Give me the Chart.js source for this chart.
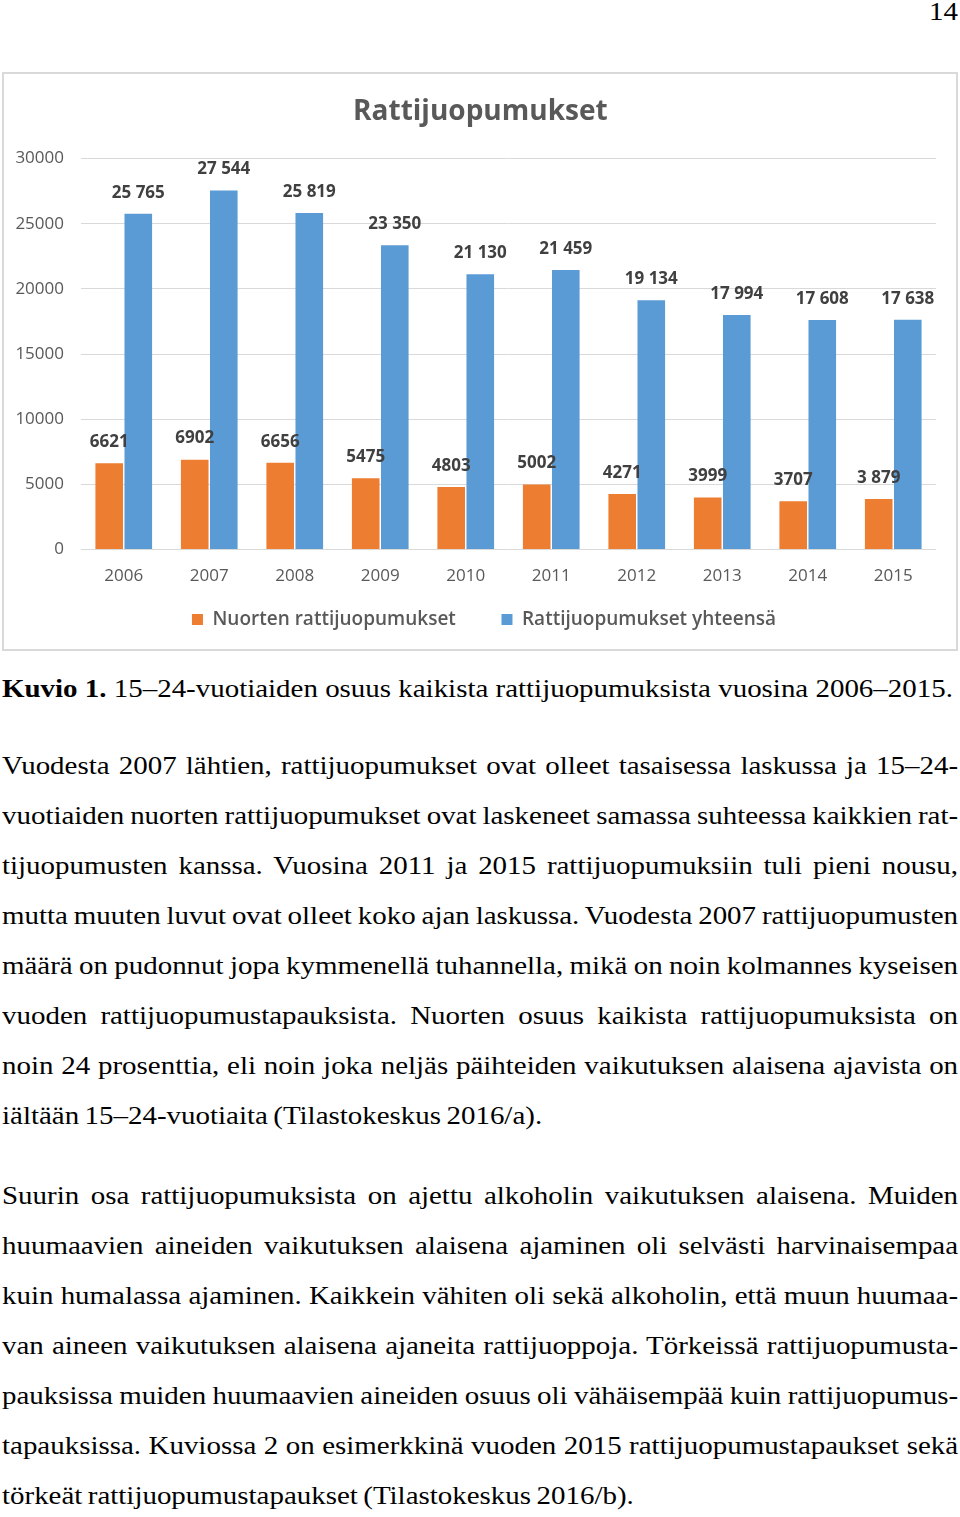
<!DOCTYPE html>
<html lang="fi">
<head>
<meta charset="utf-8">
<title>Rattijuopumukset</title>
<script src="https://cdn.jsdelivr.net/npm/chart.js@4.4.0/dist/chart.umd.min.js"></script>
<style>
    body { margin: 0; width: 960px; height: 1517px; position: relative; overflow: hidden; background: #fff;
           font-family: "Liberation Serif", "Times New Roman", serif; color: #000; }
    .pg { position: absolute; right: 2px; top: -13px; font-size: 26px; line-height: 50px;
          transform: scaleX(1.113); transform-origin: right top; }
    #box { position: absolute; left: 2px; top: 72px; width: 952px; height: 575px; border: 2px solid #d9d9d9; }
    /* the scanned page uses a slightly wide Times, so the lines are stretched */
    .ln { position: absolute; left: 2px; width: 859px; font-size: 26px; line-height: 50px; word-spacing: -1.6px;
          white-space: nowrap; text-align: justify; text-align-last: justify;
          transform: scaleX(1.113); transform-origin: left top; }
    .ln.end { text-align-last: left; }
</style>
</head>
<body>
<div class="pg">14</div>
<div id="box"><canvas id="chart" width="952" height="575"></canvas></div>

<div class="ln end" style="top:664px;word-spacing:0"><b>Kuvio 1.</b> 15–24-vuotiaiden osuus kaikista rattijuopumuksista vuosina 2006–2015.</div>

<div class="ln" style="top:741px">Vuodesta 2007 lähtien, rattijuopumukset ovat olleet tasaisessa laskussa ja 15–24-</div>
<div class="ln" style="top:791px">vuotiaiden nuorten rattijuopumukset ovat laskeneet samassa suhteessa kaikkien rat-</div>
<div class="ln" style="top:841px">tijuopumusten kanssa. Vuosina 2011 ja 2015 rattijuopumuksiin tuli pieni nousu,</div>
<div class="ln" style="top:891px">mutta muuten luvut ovat olleet koko ajan laskussa. Vuodesta 2007 rattijuopumusten</div>
<div class="ln" style="top:941px">määrä on pudonnut jopa kymmenellä tuhannella, mikä on noin kolmannes kyseisen</div>
<div class="ln" style="top:991px">vuoden rattijuopumustapauksista. Nuorten osuus kaikista rattijuopumuksista on</div>
<div class="ln" style="top:1041px">noin 24 prosenttia, eli noin joka neljäs päihteiden vaikutuksen alaisena ajavista on</div>
<div class="ln end" style="top:1091px">iältään 15–24-vuotiaita (Tilastokeskus 2016/a).</div>

<div class="ln" style="top:1171px">Suurin osa rattijuopumuksista on ajettu alkoholin vaikutuksen alaisena. Muiden</div>
<div class="ln" style="top:1221px">huumaavien aineiden vaikutuksen alaisena ajaminen oli selvästi harvinaisempaa</div>
<div class="ln" style="top:1271px">kuin humalassa ajaminen. Kaikkein vähiten oli sekä alkoholin, että muun huumaa-</div>
<div class="ln" style="top:1321px">van aineen vaikutuksen alaisena ajaneita rattijuoppoja. Törkeissä rattijuopumusta-</div>
<div class="ln" style="top:1371px">pauksissa muiden huumaavien aineiden osuus oli vähäisempää kuin rattijuopumus-</div>
<div class="ln" style="top:1421px">tapauksissa. Kuviossa 2 on esimerkkinä vuoden 2015 rattijuopumustapaukset sekä</div>
<div class="ln end" style="top:1471px">törkeät rattijuopumustapaukset (Tilastokeskus 2016/b).</div>

<script>
// data
const years = ['2006', '2007', '2008', '2009', '2010', '2011', '2012', '2013', '2014', '2015'];
const youthCases = [6621, 6902, 6656, 5475, 4803, 5002, 4271, 3999, 3707, 3879];
const totalCases = [25765, 27544, 25819, 23350, 21130, 21459, 19134, 17994, 17608, 17638];
const youthLabels = ['6621', '6902', '6656', '5475', '4803', '5002', '4271', '3999', '3707', '3 879'];
const totalLabels = ['25 765', '27 544', '25 819', '23 350', '21 130', '21 459', '19 134', '17 994', '17 608', '17 638'];

const grey = '#595959';
Chart.defaults.font.family = '"Open Sans", sans-serif';
Chart.defaults.color = grey;

// numbers above the bars
const valueLabels = {
    id: 'valueLabels',
    afterDatasetsDraw(chart) {
        const ctx = chart.ctx;
        ctx.save();
        ctx.font = 'bold 17px "Open Sans"';
        ctx.fillStyle = '#404040';
        ctx.textAlign = 'center';
        ctx.textBaseline = 'middle';
        chart.data.datasets.forEach((ds, i) => {
            chart.getDatasetMeta(i).data.forEach((bar, j) => {
                ctx.fillText(ds.valueLabels[j], bar.x, bar.y - 21);
            });
        });
        ctx.restore();
    }
};

new Chart(document.getElementById('chart'), {
    type: 'bar',
    data: {
        labels: years,
        datasets: [
            { label: 'Nuorten rattijuopumukset', data: youthCases, valueLabels: youthLabels,
              backgroundColor: '#ed7d31', categoryPercentage: 0.68, barPercentage: 0.95 },
            { label: 'Rattijuopumukset yhteensä', data: totalCases, valueLabels: totalLabels,
              backgroundColor: '#5b9bd5', categoryPercentage: 0.68, barPercentage: 0.95 }
        ]
    },
    options: {
        responsive: false,
        animation: false,
        layout: { padding: { left: 10, right: 2, top: 0, bottom: 10 } },
        scales: {
            x: {
                grid: { display: false },
                border: { display: false },
                ticks: { font: { size: 17 }, color: grey, padding: 8 }
            },
            y: {
                min: 0,
                max: 30000,
                ticks: { stepSize: 5000, font: { size: 17 }, color: grey, padding: 17, callback: v => String(v) },
                grid: { color: '#d9d9d9', drawTicks: false },
                border: { display: false },
                afterFit(scale) { scale.width = 67; }
            },
            // empty right-hand axis, only keeps the plot off the right edge
            yRight: {
                position: 'right',
                grid: { display: false },
                border: { display: false },
                ticks: { display: false },
                afterFit(scale) { scale.width = 18; }
            }
        },
        plugins: {
            title: {
                display: true,
                text: 'Rattijuopumukset ',
                color: grey,
                font: { size: 28, weight: 'bold' },
                padding: { top: 21, bottom: 30 }
            },
            legend: {
                position: 'bottom',
                labels: {
                    boxWidth: 11,
                    boxHeight: 11,
                    padding: 16,
                    color: grey,
                    font: { size: 19, weight: '600' },
                    generateLabels(chart) {
                        const items = Chart.defaults.plugins.legend.labels.generateLabels(chart);
                        items[0].text += '      ';
                        return items;
                    }
                }
            },
            tooltip: { enabled: false }
        }
    },
    plugins: [valueLabels]
});
</script>
</body>
</html>
